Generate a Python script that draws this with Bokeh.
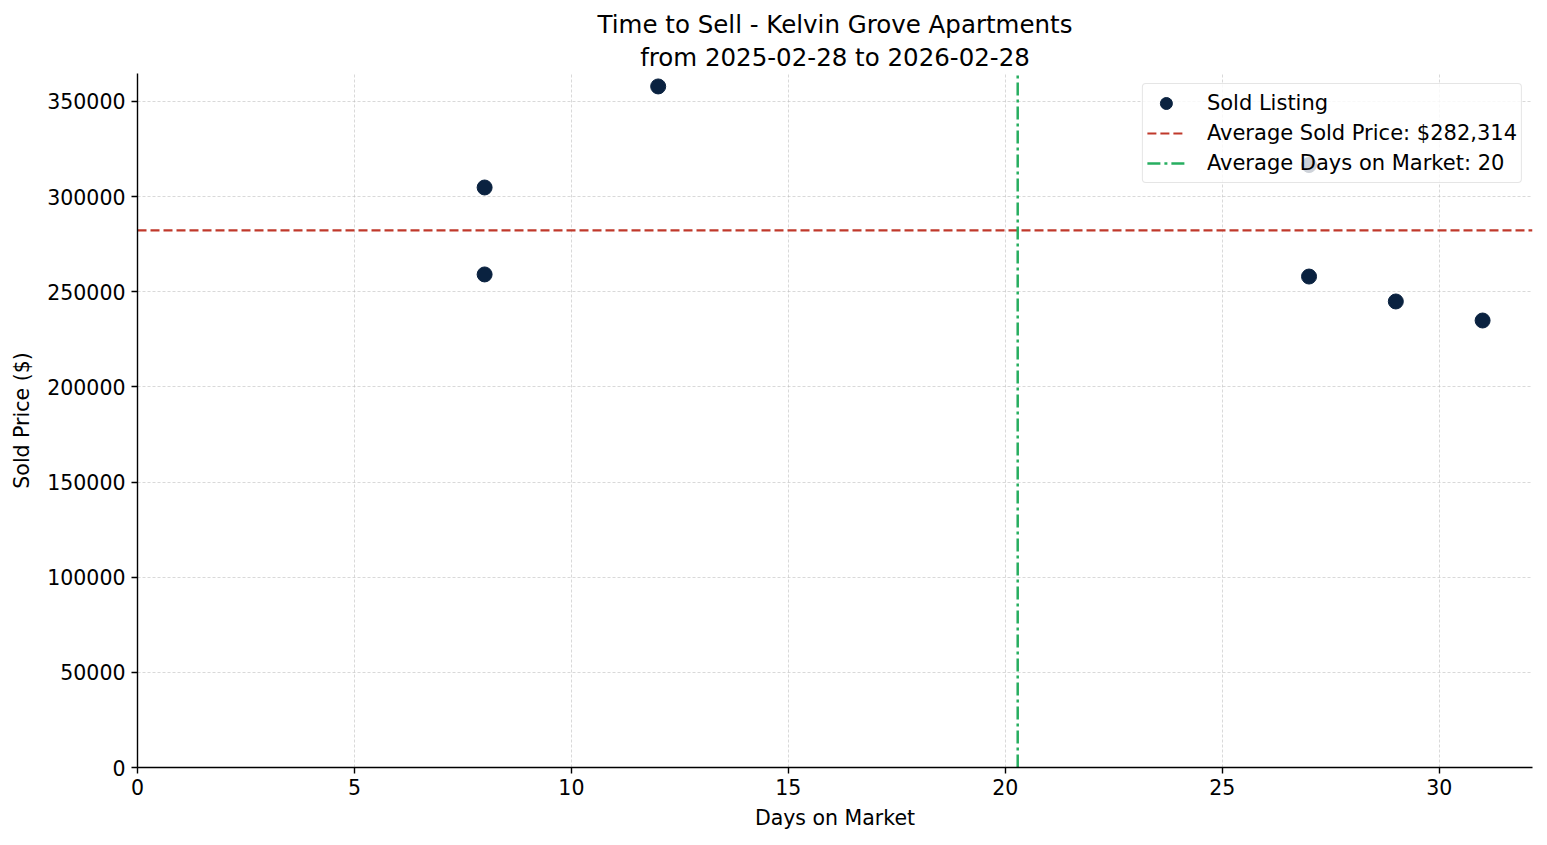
from bokeh.plotting import figure
from bokeh.models import Title, FixedTicker, BasicTickFormatter, Range1d, Legend, LegendItem, ColumnDataSource
from bokeh.embed import file_html
from bokeh.resources import INLINE

# data
days_on_market = [8, 8, 12, 27, 27, 29, 31]
sold_price = [304800, 259100, 357900, 316598, 258000, 244900, 234900]
x_ticks = [0, 5, 10, 15, 20, 25, 30]
y_ticks = [0, 50000, 100000, 150000, 200000, 250000, 300000, 350000]

avg_price = sum(sold_price) / len(sold_price)
avg_days = sum(days_on_market) / len(days_on_market)

FONT = "DejaVu Sans"
X_MAX = 32.15
Y_MAX = 364700

p = figure(width=1547, height=845, output_backend="svg", toolbar_location=None,
           x_range=Range1d(0, X_MAX), y_range=Range1d(0, Y_MAX),
           min_border_left=137, min_border_right=15, min_border_top=73, min_border_bottom=78)
p.outline_line_color = None
p.background_fill_color = "white"

# two-line title (later added sits on top)
p.add_layout(Title(text="from 2025-02-28 to 2026-02-28", align="center", text_font=FONT,
                   text_font_size="24.5px", text_font_style="normal", text_color="black",
                   text_line_height=1.0, standoff=4), "above")
p.add_layout(Title(text="Time to Sell - Kelvin Grove Apartments", align="center", text_font=FONT,
                   text_font_size="24.5px", text_font_style="normal", text_color="black",
                   text_line_height=1.0, standoff=0), "above")

src = ColumnDataSource(data=dict(x=days_on_market, y=sold_price))
pts = p.scatter("x", "y", source=src, size=15, fill_color="#0a2240", line_color="#0a2240")

# average lines
h_line = p.line(x=[0, X_MAX], y=[avg_price, avg_price], line_color="#c0392b", line_width=2.2,
                line_dash="9 4")
v_line = p.line(x=[avg_days, avg_days], y=[0, Y_MAX], line_color="#27ae60", line_width=2.5,
                line_dash="13 4 3 4")

legend = Legend(items=[
    LegendItem(label="Sold Listing", renderers=[pts]),
    LegendItem(label="Average Sold Price: ${:,.0f}".format(avg_price), renderers=[h_line]),
    LegendItem(label="Average Days on Market: {:d}".format(int(avg_days)), renderers=[v_line]),
], location="top_right")
legend.label_text_font = FONT
legend.label_text_font_size = "21px"
legend.label_text_color = "black"
legend.label_height = 30
legend.glyph_height = 30
legend.glyph_width = 38
legend.label_standoff = 22
legend.spacing = 0
legend.padding = 4
legend.margin = 10
legend.border_line_color = "#cccccc"
legend.border_line_width = 1.3
legend.border_radius = 4
legend.background_fill_alpha = 0.8
p.add_layout(legend)

# axes
for ax in (p.xaxis, p.yaxis):
    ax.axis_line_color = "black"
    ax.axis_line_width = 1.4
    ax.major_tick_line_color = "black"
    ax.major_tick_line_width = 1.4
    ax.major_tick_out = 6
    ax.major_tick_in = 0
    ax.minor_tick_line_color = None
    ax.major_label_text_font = FONT
    ax.major_label_text_font_size = "20.5px"
    ax.major_label_text_color = "black"
    ax.axis_label_text_font = FONT
    ax.axis_label_text_font_size = "20.5px"
    ax.axis_label_text_font_style = "normal"
    ax.axis_label_text_color = "black"

p.xaxis.ticker = FixedTicker(ticks=x_ticks)
p.yaxis.ticker = FixedTicker(ticks=y_ticks)
p.yaxis.formatter = BasicTickFormatter(use_scientific=False)
p.xaxis.axis_label = "Days on Market"
p.yaxis.axis_label = "Sold Price ($)"
p.xaxis.major_label_standoff = 5
p.yaxis.major_label_standoff = 6
p.xaxis.axis_label_standoff = 8
p.yaxis.axis_label_standoff = 10

p.grid.grid_line_color = "#bbbbbb"
p.grid.grid_line_dash = "3 2"
p.grid.grid_line_width = 0.8
p.grid.grid_line_alpha = 0.7

open("out.html", "w").write(file_html(p, INLINE))
